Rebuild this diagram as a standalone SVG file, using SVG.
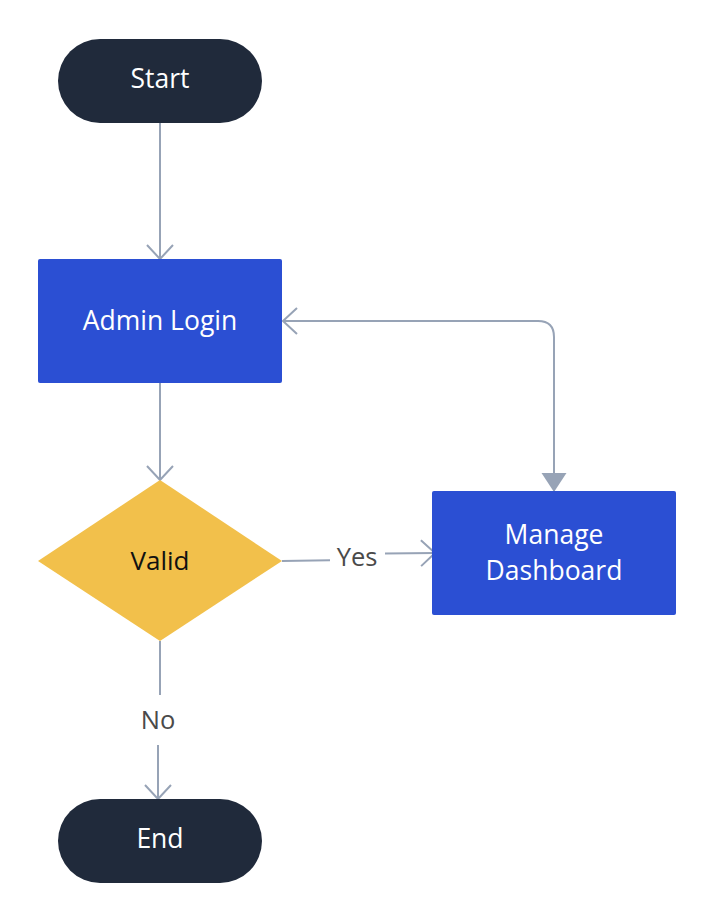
<svg xmlns="http://www.w3.org/2000/svg" width="714" height="920" viewBox="0 0 714 920">
<defs>
<marker id="open" viewBox="0 0 20 30" refX="16" refY="15" markerWidth="20" markerHeight="30" markerUnits="userSpaceOnUse" orient="auto">
<path d="M2,2 L16,15 L2,28" fill="none" stroke="#97a3b6" stroke-width="2"/>
</marker>
<marker id="tri" viewBox="0 0 20 26" refX="19" refY="13" markerWidth="20" markerHeight="26" markerUnits="userSpaceOnUse" orient="auto">
<path d="M0,0.5 L19,13 L0,25.5 Z" fill="#97a3b6"/>
</marker>
</defs>
<style>
.term{fill:#202a3b}
.proc{fill:#2b4fd3}
.dec{fill:#f2c04b}
.lt{font-family:"Open Sans","Noto Sans",sans-serif;font-size:26.5px;fill:#ffffff;text-anchor:middle;dominant-baseline:central}
.dt{font-family:"Open Sans","Noto Sans",sans-serif;font-size:26px;fill:#111111;text-anchor:middle;dominant-baseline:central}
.el{font-family:"Open Sans","Noto Sans",sans-serif;font-size:25.5px;fill:#4a4a4a;text-anchor:middle;dominant-baseline:central}
.c{fill:none;stroke:#97a3b6;stroke-width:2}
</style>
<rect width="714" height="920" fill="#ffffff"/>
<g id="connectors">
<path class="c" d="M160,123 L160,259" marker-end="url(#open)"/>
<path class="c" d="M160,383 L160,480" marker-end="url(#open)"/>
<path class="c" d="M554,474 L554,337 Q554,321 538,321 L283,321" marker-end="url(#open)"/>
<path class="c" d="M554,340 L554,492" marker-end="url(#tri)"/>
<path class="c" d="M282,561 L330,560.2"/>
<path class="c" d="M385,553.5 L435,553" marker-end="url(#open)"/>
<text class="el" x="357" y="556">Yes</text>
<path class="c" d="M160,641 L160,695"/>
<path class="c" d="M158,745 L158,799" marker-end="url(#open)"/>
<text class="el" x="158" y="719">No</text>
</g>
<g id="start">
<rect class="term" x="58" y="39" width="204" height="84" rx="42"/>
<text class="lt" x="160" y="78">Start</text>
</g>
<g id="admin-login">
<rect class="proc" x="38" y="259" width="244" height="124" rx="2"/>
<text class="lt" x="160" y="320">Admin Login</text>
</g>
<g id="valid">
<polygon class="dec" points="160,480 282,561 160,641 38,561"/>
<text class="dt" x="160" y="560">Valid</text>
</g>
<g id="manage-dashboard">
<rect class="proc" x="432" y="491" width="244" height="124" rx="2"/>
<text class="lt" x="554" y="534">Manage</text>
<text class="lt" x="554" y="570">Dashboard</text>
</g>
<g id="end">
<rect class="term" x="58" y="799" width="204" height="84" rx="42"/>
<text class="lt" x="160" y="838">End</text>
</g>
</svg>
